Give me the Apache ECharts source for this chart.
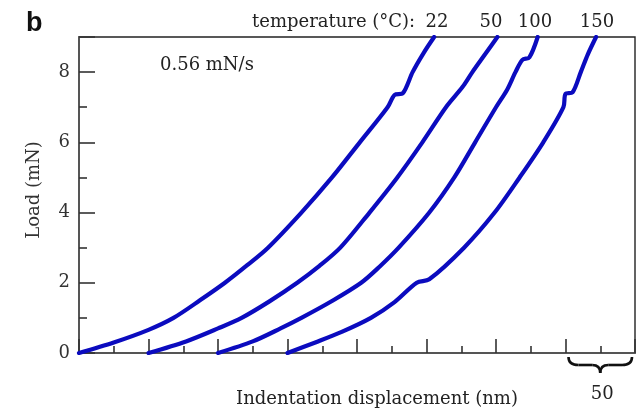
<!DOCTYPE html>
<html>
<head>
<meta charset="utf-8">
<script src="https://cdn.jsdelivr.net/npm/echarts@6/dist/echarts.min.js"></script>
<style>html,body{margin:0;padding:0;background:#fff;}#c{width:639px;height:411px;}</style>
</head>
<body>
<div id="c"></div>
<script>
// Indentation displacement (nm) vs Load (mN)
const temps = ['22', '50', '100', '150'];
const x22 = [0, 25, 50, 68, 87, 105, 121, 136, 160, 182, 202, 222, 227, 233, 240, 248, 255.5];
const y22 = [0, 0.3, 0.66, 1, 1.5, 2, 2.5, 3, 4, 5, 6, 7, 7.35, 7.4, 8, 8.55, 9];
const x50 = [50, 77, 100, 117, 137, 157, 173, 188, 209, 229, 247, 264, 276, 283, 292, 301];
const y50 = [0, 0.33, 0.7, 1, 1.47, 2, 2.48, 3, 4, 5, 6, 7, 7.58, 8, 8.5, 9];
const x100 = [100, 125, 145, 160, 182, 203, 216, 230, 252, 270, 285, 300, 308, 314, 319, 324, 330];
const y100 = [0, 0.33, 0.7, 1, 1.48, 2, 2.45, 3, 4, 5, 6, 7, 7.5, 8, 8.35, 8.42, 9];
const x150 = [150, 170, 189, 210, 227, 243, 252, 277, 299, 317, 334, 348.5, 350, 355, 361, 366, 372];
const y150 = [0, 0.3, 0.6, 1, 1.45, 2, 2.1, 3, 4, 5, 6, 7, 7.38, 7.42, 8, 8.5, 9];
const yTicks = [0, 2, 4, 6, 8];
const scaleBar = [350, 400]; // 50 nm

const pairs = (xs, ys) => xs.map((v, i) => [v, ys[i]]);
const curves = [pairs(x22, y22), pairs(x50, y50), pairs(x100, y100), pairs(x150, y150)];

const serif = 'DejaVu Serif';
const chart = echarts.init(document.getElementById('c'), null, {renderer: 'canvas'});
const option = {
  animation: false,
  backgroundColor: '#fff',
  grid: {left: 79, right: 4, top: 37, bottom: 58, show: true, borderColor: '#222', borderWidth: 1.4, backgroundColor: 'transparent'},
  xAxis: {
    type: 'value', min: 0, max: 400, interval: 50,
    axisLine: {show: true, onZero: false, lineStyle: {color: '#555', width: 2}},
    axisTick: {show: true, inside: true, length: 14, lineStyle: {color: '#333', width: 1.6}},
    minorTick: {show: true, splitNumber: 2, length: 7, lineStyle: {color: '#333', width: 1.6}},
    axisLabel: {show: false},
    splitLine: {show: false}
  },
  yAxis: {
    type: 'value', min: 0, max: 9, interval: 2,
    axisLine: {show: true, lineStyle: {color: '#555', width: 2}},
    axisTick: {show: true, inside: true, length: 16, lineStyle: {color: '#333', width: 1.6}},
    minorTick: {show: true, splitNumber: 2, length: 8, lineStyle: {color: '#333', width: 1.6}},
    axisLabel: {
      show: true, margin: 9, color: '#333', fontFamily: serif, fontSize: 18,
      formatter: v => (yTicks.indexOf(v) >= 0 ? String(v) : '')
    },
    splitLine: {show: false},
    name: 'Load (mN)', nameLocation: 'middle', nameGap: 36, nameRotate: 90,
    nameTextStyle: {color: '#333', fontFamily: serif, fontSize: 18, padding: [0, 0, 0, 10]}
  },
  series: curves.map((d, i) => ({
    name: temps[i], type: 'line', data: d, showSymbol: false, smooth: 0.3,
    lineStyle: {color: '#0b0bbf', width: 4.2, cap: 'round', join: 'round'},
    clip: true, z: 3
  }))
};
chart.setOption(option);

const p0 = chart.convertToPixel({gridIndex: 0}, [scaleBar[0], 0]);
const p1 = chart.convertToPixel({gridIndex: 0}, [scaleBar[1], 0]);
const bx0 = p0[0] + 3, bx1 = p1[0] - 3, bmid = (bx0 + bx1) / 2, btop = p0[1] + 4;
const bs = {stroke: '#111', lineWidth: 2.6, fill: null};
const brace = [
  {type: 'bezierCurve', shape: {x1: bx0, y1: btop, cpx1: bx0, cpy1: btop + 8, x2: bx0 + 10, y2: btop + 8}, style: bs},
  {type: 'line', shape: {x1: bx0 + 10, y1: btop + 8, x2: bmid - 8, y2: btop + 8}, style: bs},
  {type: 'bezierCurve', shape: {x1: bmid - 8, y1: btop + 8, cpx1: bmid, cpy1: btop + 8, x2: bmid, y2: btop + 16}, style: bs},
  {type: 'bezierCurve', shape: {x1: bmid, y1: btop + 16, cpx1: bmid, cpy1: btop + 8, x2: bmid + 8, y2: btop + 8}, style: bs},
  {type: 'line', shape: {x1: bmid + 8, y1: btop + 8, x2: bx1 - 10, y2: btop + 8}, style: bs},
  {type: 'bezierCurve', shape: {x1: bx1 - 10, y1: btop + 8, cpx1: bx1, cpy1: btop + 8, x2: bx1, y2: btop}, style: bs}
];
const txt = (x, y, text, extra) => ({type: 'text', x: x, y: y, style: Object.assign({text: text, fill: '#222', font: '18px "' + serif + '"', textAlign: 'center', textVerticalAlign: 'middle'}, extra || {})});
chart.setOption({
  graphic: brace.concat([
    txt(26, 24, 'b', {font: 'bold 27px "Liberation Sans"', textAlign: 'left', fill: '#111'}),
    txt(252, 22, 'temperature (°C):', {textAlign: 'left'}),
    txt(437, 22, temps[0]), txt(491, 22, temps[1]), txt(535, 22, temps[2]), txt(597, 22, temps[3]),
    txt(160, 65, '0.56 mN/s', {textAlign: 'left'}),
    txt(377, 399, 'Indentation displacement (nm)'),
    txt(bmid + 2, 394, '50')
  ])
});
</script>
</body>
</html>
